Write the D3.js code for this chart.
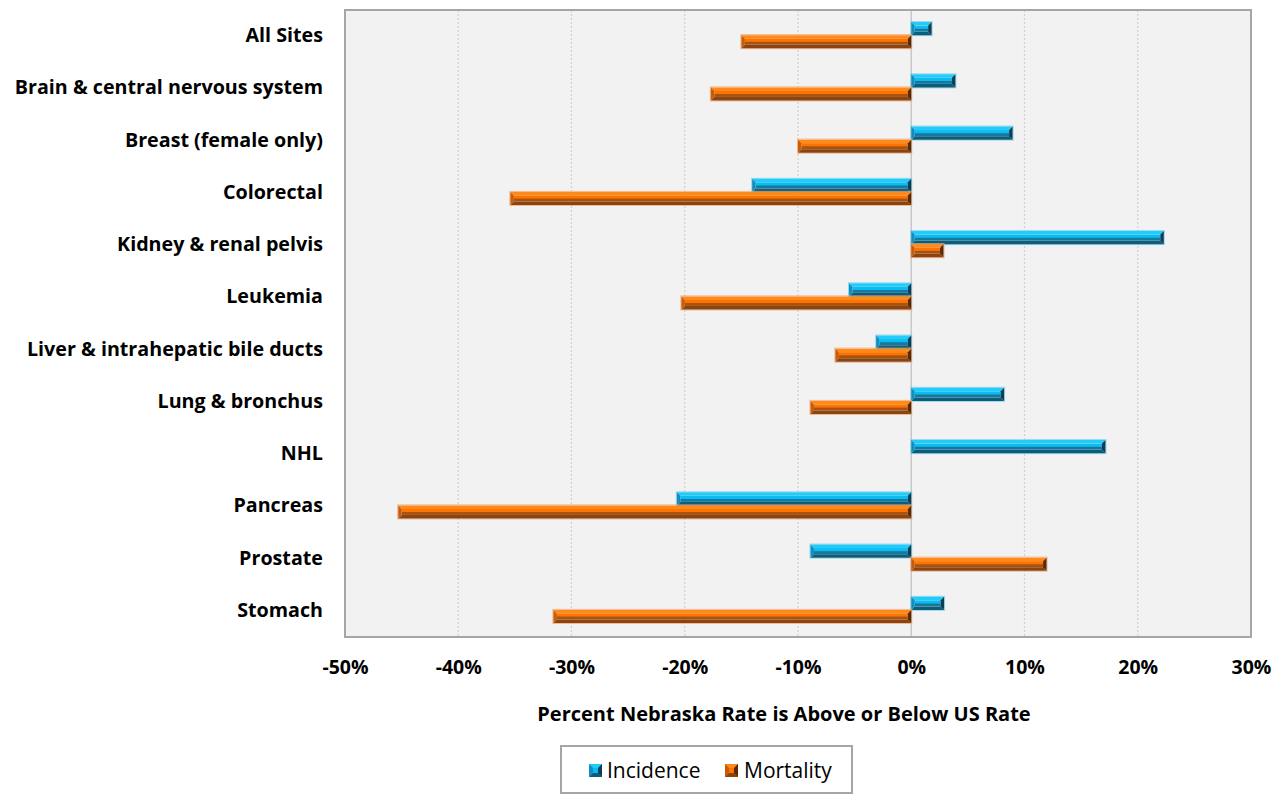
<!DOCTYPE html>
<html>
<head>
<meta charset="utf-8">
<script src="https://cdn.jsdelivr.net/npm/d3@7"></script>
<style>
  html, body { margin: 0; padding: 0; background: #ffffff; }
  svg { display: block; }
  text { font-family: "Open Sans", sans-serif; }
</style>
</head>
<body>
<svg id="chart" width="1284" height="794"></svg>
<script>
const categories = [
  "All Sites",
  "Brain & central nervous system",
  "Breast (female only)",
  "Colorectal",
  "Kidney & renal pelvis",
  "Leukemia",
  "Liver & intrahepatic bile ducts",
  "Lung & bronchus",
  "NHL",
  "Pancreas",
  "Prostate",
  "Stomach"
];
const seriesNames = ["Incidence", "Mortality"];
const incidence = [1.8, 3.9, 8.95, -14.05, 22.3, -5.5, -3.1, 8.2, 17.15, -20.7, -8.9, 2.9];
const mortality = [-15.0, -17.7, -10.0, -35.4, 2.85, -20.3, -6.7, -8.9, null, -45.3, 11.95, -31.6];
const xTicks = [-50, -40, -30, -20, -10, 0, 10, 20, 30];
const xTitle = "Percent Nebraska Rate is Above or Below US Rate";

const svg = d3.select("#chart");
const plot = { left: 345, right: 1251, top: 10, bottom: 637 };

const x = d3.scaleLinear().domain([-50, 30]).range([plot.left, plot.right]);
const y = d3.scaleBand().domain(categories).range([plot.top - 1, plot.bottom - 1])
  .paddingInner(0.5).paddingOuter(0.25);
const ySub = d3.scaleBand().domain(seriesNames).range([0, y.bandwidth()]);

const palette = {
  Incidence: { top: "#22cbfa", left: "#0f8fc0", right: "#0b3f55", bottom: "#0d5c7c", c1: "#08bdf2", c2: "#17779c", edge: "#7fd2f0" },
  Mortality: { top: "#ff8a1a", left: "#c85a08", right: "#5a2a06", bottom: "#8a4410", c1: "#ff7300", c2: "#a85212", edge: "#f2a874" }
};

const defs = svg.append("defs");
seriesNames.forEach(s => {
  const g = defs.append("linearGradient").attr("id", "grad-" + s)
    .attr("x1", 0).attr("y1", 0).attr("x2", 0).attr("y2", 1);
  g.append("stop").attr("offset", "0%").attr("stop-color", palette[s].c1);
  g.append("stop").attr("offset", "45%").attr("stop-color", palette[s].c1);
  g.append("stop").attr("offset", "60%").attr("stop-color", palette[s].c2);
  g.append("stop").attr("offset", "100%").attr("stop-color", palette[s].c2);
});

// plot background
svg.append("rect")
  .attr("x", plot.left).attr("y", plot.top)
  .attr("width", plot.right - plot.left).attr("height", plot.bottom - plot.top)
  .attr("fill", "#f2f2f2");

// gridlines
svg.append("g").selectAll("line")
  .data(xTicks.filter(t => t !== -50 && t !== 30 && t !== 0))
  .join("line")
  .attr("x1", d => x(d)).attr("x2", d => x(d))
  .attr("y1", plot.top).attr("y2", plot.bottom)
  .attr("stroke", "#d0d0d0").attr("stroke-width", 1.2)
  .attr("stroke-dasharray", "2,2");

// zero axis line
svg.append("line")
  .attr("x1", x(0)).attr("x2", x(0))
  .attr("y1", plot.top).attr("y2", plot.bottom)
  .attr("stroke", "#c8c8c8").attr("stroke-width", 1.5);

// bars
const rows = [];
categories.forEach((c, i) => {
  [["Incidence", incidence[i]], ["Mortality", mortality[i]]].forEach(([s, v]) => {
    if (v !== null && v !== undefined) rows.push({ cat: c, series: s, value: v });
  });
});

const bevel = 3.5;
const barG = svg.append("g");
rows.forEach(d => {
  const x0 = Math.min(x(0), x(d.value)), x1 = Math.max(x(0), x(d.value));
  const y0 = y(d.cat) + ySub(d.series), y1 = y0 + ySub.bandwidth();
  const b = Math.min(bevel, (x1 - x0) / 2);
  const p = palette[d.series];
  const g = barG.append("g");
  g.append("rect").attr("x", x0 - 0.5).attr("y", y0 - 0.5)
    .attr("width", x1 - x0 + 1).attr("height", y1 - y0 + 1)
    .attr("fill", "none").attr("stroke", p.edge).attr("stroke-width", 1).attr("opacity", 0.8);
  g.append("rect").attr("x", x0 + b).attr("y", y0 + b)
    .attr("width", Math.max(0, x1 - x0 - 2 * b)).attr("height", y1 - y0 - 2 * b)
    .attr("fill", `url(#grad-${d.series})`);
  const poly = pts => g.append("polygon").attr("points", pts.map(q => q.join(",")).join(" "));
  poly([[x0, y0], [x1, y0], [x1 - b, y0 + b], [x0 + b, y0 + b]]).attr("fill", p.top);
  poly([[x0, y1], [x1, y1], [x1 - b, y1 - b], [x0 + b, y1 - b]]).attr("fill", p.bottom);
  poly([[x0, y0], [x0 + b, y0 + b], [x0 + b, y1 - b], [x0, y1]]).attr("fill", p.left);
  poly([[x1, y0], [x1 - b, y0 + b], [x1 - b, y1 - b], [x1, y1]]).attr("fill", p.right);
});

// plot border
svg.append("rect")
  .attr("x", plot.left).attr("y", plot.top)
  .attr("width", plot.right - plot.left).attr("height", plot.bottom - plot.top)
  .attr("fill", "none").attr("stroke", "#a6a6a6").attr("stroke-width", 2);

// category labels
const yAxis = svg.append("g").attr("transform", `translate(${plot.left},0)`)
  .call(d3.axisLeft(y).tickSize(0).tickPadding(22));
yAxis.select(".domain").remove();
yAxis.selectAll("text")
  .attr("font-family", "'Open Sans', sans-serif")
  .attr("font-size", 19.7).attr("font-weight", 700).attr("fill", "#000")
  .attr("dy", "0.35em");

// x axis labels
const xAxis = svg.append("g").attr("transform", `translate(0,${plot.bottom})`)
  .call(d3.axisBottom(x).tickValues(xTicks).tickSize(0).tickPadding(23).tickFormat(d => d + "%"));
xAxis.select(".domain").remove();
xAxis.selectAll("text")
  .attr("font-family", "'Open Sans', sans-serif")
  .attr("font-size", 19.5).attr("font-weight", 700).attr("fill", "#000");

// x axis title
svg.append("text")
  .attr("x", 784).attr("y", 721)
  .attr("text-anchor", "middle")
  .attr("font-size", 20).attr("font-weight", 700).attr("fill", "#000")
  .text(xTitle);

// legend
const legend = svg.append("g");
legend.append("rect").attr("x", 561).attr("y", 746).attr("width", 291).attr("height", 47)
  .attr("fill", "#fff").attr("stroke", "#a6a6a6").attr("stroke-width", 2);
const legendPos = [{ s: "Incidence", sx: 589, tx: 607 }, { s: "Mortality", sx: 725, tx: 744 }];
legendPos.forEach(l => {
  const p = palette[l.s];
  const sx = l.sx, sy = 764, sz = 13, bb = 4;
  const g = legend.append("g");
  g.append("rect").attr("x", sx).attr("y", sy).attr("width", sz).attr("height", sz).attr("fill", p.c1);
  const poly = pts => g.append("polygon").attr("points", pts.map(q => q.join(",")).join(" "));
  poly([[sx, sy], [sx + sz, sy], [sx + sz - bb, sy + bb], [sx + bb, sy + bb]]).attr("fill", p.top);
  poly([[sx, sy + sz], [sx + sz, sy + sz], [sx + sz - bb, sy + sz - bb], [sx + bb, sy + sz - bb]]).attr("fill", p.bottom);
  poly([[sx, sy], [sx + bb, sy + bb], [sx + bb, sy + sz - bb], [sx, sy + sz]]).attr("fill", p.left);
  poly([[sx + sz, sy], [sx + sz - bb, sy + bb], [sx + sz - bb, sy + sz - bb], [sx + sz, sy + sz]]).attr("fill", p.right);
  legend.append("text").attr("x", l.tx).attr("y", 778)
    .attr("font-size", 21).attr("fill", "#000").text(l.s);
});
</script>
</body>
</html>
